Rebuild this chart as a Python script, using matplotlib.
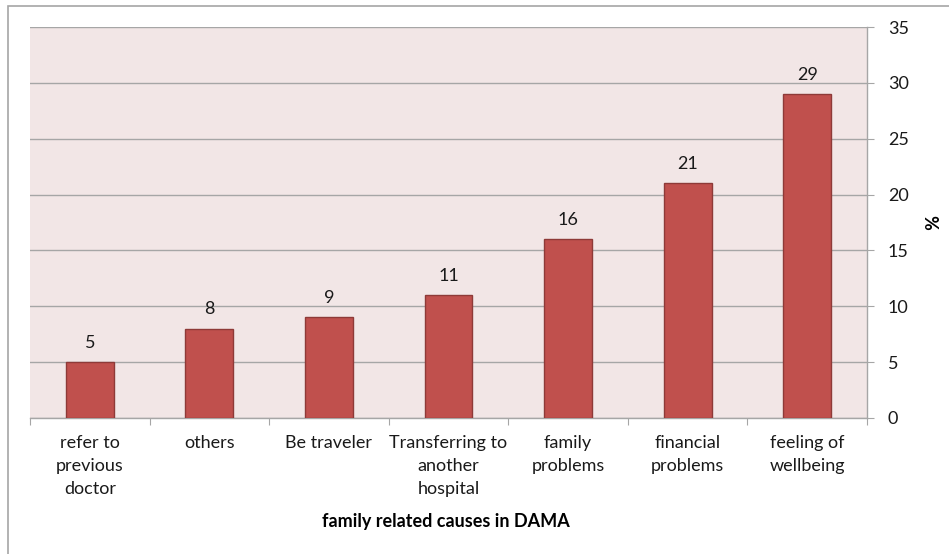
#!/usr/bin/env python3
"""Bar chart: family related causes in DAMA (percent)."""
import matplotlib
matplotlib.use("Agg")
import matplotlib.pyplot as plt
from matplotlib.patches import Rectangle

categories = ["refer to\nprevious\ndoctor", "others", "Be traveler",
              "Transferring to\nanother\nhospital", "family\nproblems",
              "financial\nproblems", "feeling of\nwellbeing"]
values = [5, 8, 9, 11, 16, 21, 29]
yticks = [0, 5, 10, 15, 20, 25, 30, 35]

plt.rcParams["font.family"] = ["Lato", "DejaVu Sans"]

W, H = 949, 554
fig = plt.figure(figsize=(W / 100, H / 100), dpi=100)
ax = fig.add_axes([30 / W, 1 - 418 / H, (867 - 30) / W, (418 - 27) / H])

bar_face = "#C0504D"
bar_edge = "#8E3A38"
grid_c = "#A6A6A6"
txt_c = "#1a1a1a"
fs = 13

x = list(range(len(values)))
ax.bar(x, values, width=0.4, color=bar_face, edgecolor=bar_edge,
       linewidth=1.0, zorder=3)
for xi, v in zip(x, values):
    ax.text(xi, v + 1.0, str(v), ha="center", va="bottom", fontsize=fs,
            color=txt_c)

ax.set_facecolor("#F2E6E6")
ax.set_xlim(-0.5, len(values) - 0.5)
ax.set_ylim(0, 35)
ax.set_yticks(yticks)
ax.yaxis.tick_right()
ax.yaxis.set_label_position("right")
ax.grid(axis="y", color=grid_c, linewidth=1.0, zorder=1)
ax.tick_params(axis="y", length=5, color=grid_c, labelsize=fs, pad=10,
               labelcolor=txt_c)

# category ticks at the boundaries, labels in the middle
ax.set_xticks([i - 0.5 for i in range(len(values) + 1)])
ax.set_xticklabels([])
ax.set_xticks(x, minor=True)
ax.set_xticklabels(categories, minor=True, fontsize=fs, linespacing=1.55,
                   color=txt_c)
ax.tick_params(axis="x", which="major", length=5, color=grid_c)
ax.tick_params(axis="x", which="minor", length=0, pad=12)

for side in ["left", "top"]:
    ax.spines[side].set_visible(False)
for side in ["right", "bottom"]:
    ax.spines[side].set_color(grid_c)
    ax.spines[side].set_linewidth(1.0)

ax.set_ylabel("%", fontsize=fs, fontweight="bold", rotation=270,
              labelpad=14, va="center")
fig.text(446 / W, 1 - 522 / H, "family related causes in DAMA",
         fontsize=fs, fontweight="bold", ha="center", va="center")

# outer chart border (left and top edges visible)
fig.patches.append(Rectangle((8 / W, -0.05), 1.0, 1 - 6 / H + 0.05,
                             transform=fig.transFigure, fill=False,
                             edgecolor="#A6A6A6", linewidth=1.2))

fig.savefig("out.png", dpi=100)
